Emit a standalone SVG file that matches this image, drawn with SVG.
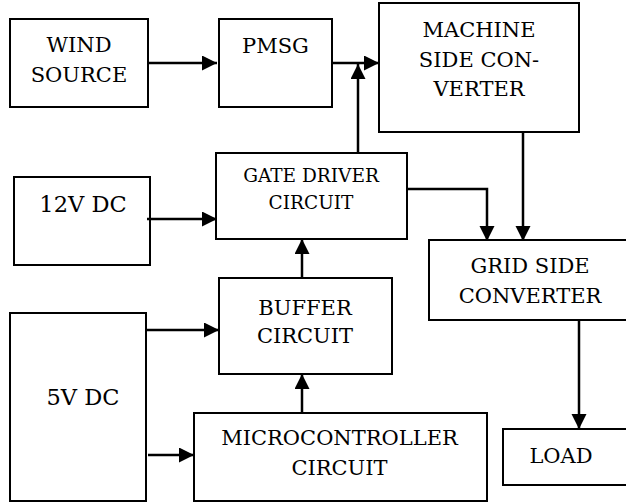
<svg xmlns="http://www.w3.org/2000/svg" width="626" height="503" viewBox="0 0 626 503">
<style>
.box{fill:#fff;stroke:#000;stroke-width:2}
.t{font-family:'DejaVu Serif',serif;font-size:21px;fill:#000;text-anchor:middle}
.s{font-size:18.5px}
.b{font-size:22.5px}
.c{fill:none;stroke:#000;stroke-width:2.5;marker-end:url(#ah)}
</style>
<defs>
<marker id="ah" markerUnits="userSpaceOnUse" markerWidth="16" markerHeight="16" refX="15" refY="7.5" orient="auto">
<path d="M0,0 L15,7.5 L0,15 z" fill="#000"/>
</marker>
</defs>
<rect width="626" height="503" fill="#fff"/>
<g id="wind"><rect class="box" x="10" y="19" width="138" height="88"/><text class="t" x="79" y="52">WIND</text><text class="t" x="79" y="82">SOURCE</text></g>
<g id="pmsg"><rect class="box" x="219" y="19" width="113" height="88"/><text class="t" x="275.5" y="53">PMSG</text></g>
<g id="machine"><rect class="box" x="379" y="3" width="200" height="129"/><text class="t" x="479" y="37">MACHINE</text><text class="t" x="479" y="67">SIDE CON-</text><text class="t" x="479" y="96">VERTER</text></g>
<g id="dc12"><rect class="box" x="14" y="177" width="136" height="88"/><text class="t b" x="83" y="212">12V DC</text></g>
<g id="gate"><rect class="box" x="216" y="153" width="191" height="86"/><text class="t s" x="311" y="182">GATE DRIVER</text><text class="t s" x="311" y="209">CIRCUIT</text></g>
<g id="buffer"><rect class="box" x="219" y="278" width="173" height="96"/><text class="t" x="305" y="315">BUFFER</text><text class="t" x="305" y="343">CIRCUIT</text></g>
<g id="dc5"><rect class="box" x="10" y="313" width="136" height="188"/><text class="t b" x="83" y="405">5V DC</text></g>
<g id="micro"><rect class="box" x="194" y="413" width="293" height="88"/><text class="t" x="339.5" y="445">MICROCONTROLLER</text><text class="t" x="339.5" y="475">CIRCUIT</text></g>
<g id="grid"><rect class="box" x="429" y="240" width="205" height="80"/><text class="t" x="530" y="273">GRID SIDE</text><text class="t" x="530" y="303">CONVERTER</text></g>
<g id="load"><rect class="box" x="503" y="429" width="130" height="56"/><text class="t" x="561" y="463">LOAD</text></g>
<g id="connectors">
<path class="c" d="M148,63 H217"/>
<path class="c" d="M332,63 H379"/>
<path class="c" d="M358,153 V64"/>
<path class="c" d="M523,132 V241"/>
<path class="c" d="M407,189 H487 V241"/>
<path class="c" d="M147,219 H217"/>
<path class="c" d="M302,278 V239"/>
<path class="c" d="M146,330 H219"/>
<path class="c" d="M302,413 V374"/>
<path class="c" d="M148,455 H194"/>
<path class="c" d="M579,320 V429"/>
</g>
</svg>
